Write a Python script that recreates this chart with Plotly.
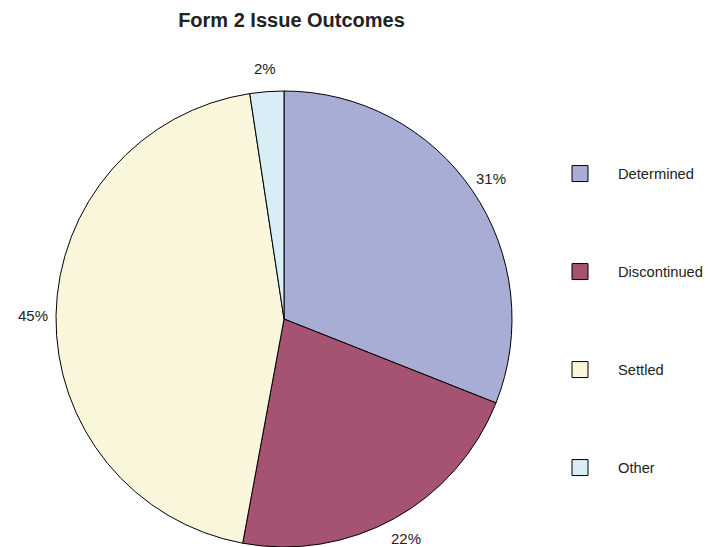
import math
import plotly.graph_objects as go

categories = ["Determined", "Discontinued", "Settled", "Other"]
values = [31.0, 21.9, 44.7, 2.4]
colors = ["#A8ADD6", "#A65272", "#FAF6DC", "#D8EDF5"]
title_text = "Form 2 Issue Outcomes"

W, H = 711, 547
FONT = "Liberation Sans, Arial, Helvetica, sans-serif"
ML, MR, MT, MB = 56, 199, 91, 0
PW, PH = W - ML - MR, H - MT - MB

fig = go.Figure()
fig.add_trace(go.Pie(
    labels=categories,
    values=values,
    sort=False,
    direction="clockwise",
    rotation=0,
    marker=dict(colors=colors, line=dict(color="black", width=1)),
    textinfo="none",
    showlegend=False,
    hoverinfo="label+percent",
))

# percentage labels placed at 1.1 x radius on each slice's mid-angle
total = sum(values)
r_px = min(PW, PH) / 2
cum = 0.0
for v in values:
    mid = (cum + v / 2) / total
    cum += v
    ang = 2 * math.pi * mid
    px = 0.5 + 1.1 * r_px * math.sin(ang) / PW
    py = 0.5 + 1.1 * r_px * math.cos(ang) / PH
    fig.add_annotation(
        x=px, y=py, xref="paper", yref="paper",
        text=f"{round(v / total * 100)}%", showarrow=False,
        xanchor="center", yanchor="middle",
        font=dict(family=FONT, size=15, color="#222222"),
    )

legend_ys = [174, 272, 370, 468]
for i, (cat, col) in enumerate(zip(categories, colors)):
    lname = "legend" if i == 0 else f"legend{i+1}"
    fig.add_trace(go.Scatter(
        x=[None], y=[None], mode="markers", name=cat,
        marker=dict(symbol="square", size=18, color=col,
                    line=dict(color="black", width=1)),
        legend=lname, showlegend=True,
    ))
    fig.layout[lname] = dict(
        xref="container", yref="container",
        x=542 / W, y=1 - legend_ys[i] / H,
        xanchor="left", yanchor="middle",
        itemwidth=66, bgcolor="rgba(0,0,0,0)",
        font=dict(family=FONT, size=14.7, color="#222222"),
    )

fig.update_layout(
    width=W, height=H,
    margin=dict(l=ML, r=MR, t=MT, b=MB),
    paper_bgcolor="white", plot_bgcolor="white",
    font=dict(family=FONT),
    title=dict(text="<b>" + title_text + "</b>", x=291.5 / W, xanchor="center",
               xref="container", yref="container", y=1 - 20 / H, yanchor="middle",
               font=dict(family=FONT, size=20, color="#222222")),
    xaxis=dict(visible=False),
    yaxis=dict(visible=False),
)

fig.write_html("out.html")
